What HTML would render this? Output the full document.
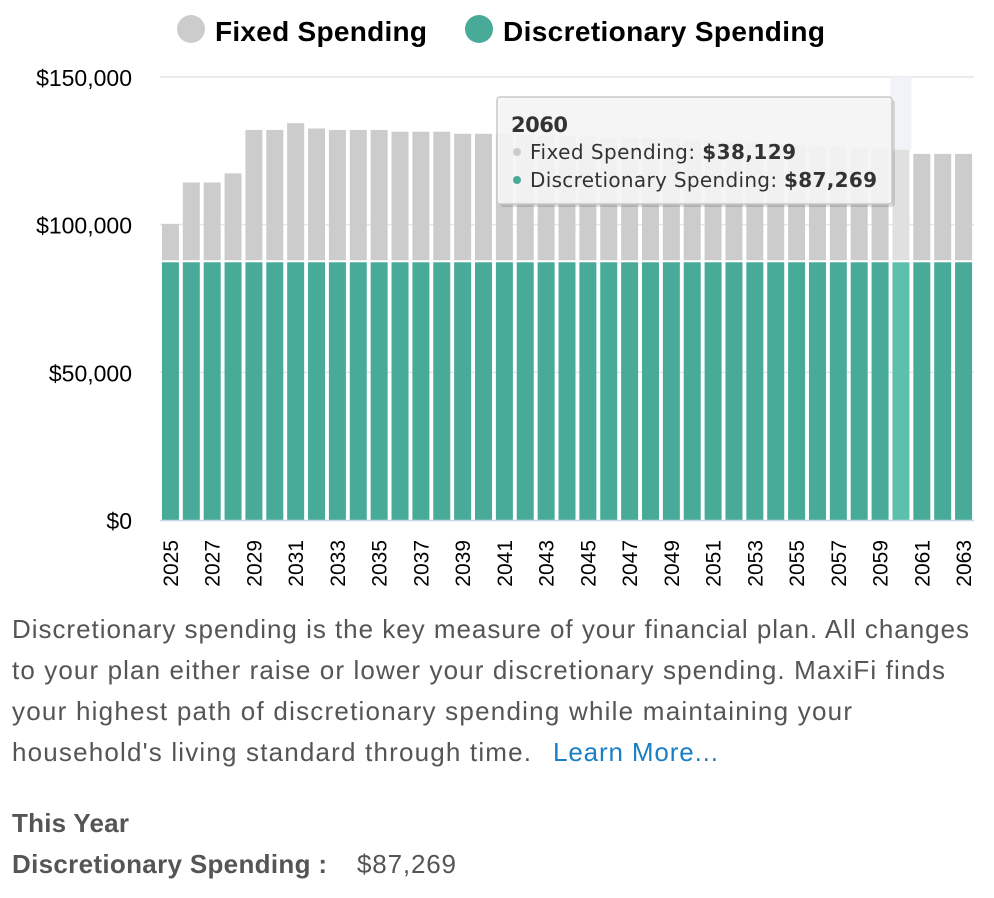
<!DOCTYPE html>
<html><head><meta charset="utf-8"><style>
html,body{margin:0;padding:0;background:#fff;}
svg{display:block;font-family:"Liberation Sans",sans-serif;}
</style></head><body>
<svg id="chart" width="994" height="898" viewBox="0 0 994 898">
  <g>
    <g>
      <circle cx="191" cy="29" r="14" fill="#cccccc"/>
      <text x="215" y="41" font-size="28" font-weight="bold" fill="#000" textLength="212">Fixed Spending</text>
    </g>
    <g>
      <circle cx="479" cy="29" r="14" fill="#48ab98"/>
      <text x="503" y="41" font-size="28" font-weight="bold" fill="#000" textLength="322">Discretionary Spending</text>
    </g>
  </g>
  <g id="grid"></g>
  <rect id="hl" fill="#f1f3f9"/>
  <g id="yaxis"></g>
  <g id="bars"></g>
  <line id="baseline" stroke="#ccd6eb" stroke-width="1.5"/>
  <g id="xaxis"></g>
  <g>
    <rect x="498" y="98" width="395" height="107" rx="3" fill="#000" opacity="0.12" transform="translate(2,2)"/>
    <rect x="497" y="97" width="395" height="107" rx="3" fill="#f7f7f7" fill-opacity="0.9" stroke="#c8c8c8" stroke-width="1.5"/>
    <text x="511" y="132" font-size="21" font-weight="bold" fill="#333" font-family="DejaVu Sans, sans-serif" textLength="57">2060</text>
    <circle cx="517" cy="152" r="4" fill="#cccccc"/>
    <text x="530" y="159" font-size="20" fill="#333" font-family="DejaVu Sans, sans-serif" textLength="266">Fixed Spending: <tspan font-weight="bold">$38,129</tspan></text>
    <circle cx="517" cy="180" r="4" fill="#48ab98"/>
    <text x="530" y="187" font-size="20" fill="#333" font-family="DejaVu Sans, sans-serif" textLength="347">Discretionary Spending: <tspan font-weight="bold">$87,269</tspan></text>
  </g>
  <g font-size="26" fill="#555">
    <text x="12" y="638" textLength="957">Discretionary spending is the key measure of your financial plan. All changes</text>
    <text x="12" y="679" textLength="933">to your plan either raise or lower your discretionary spending. MaxiFi finds</text>
    <text x="12" y="720" textLength="840">your highest path of discretionary spending while maintaining your</text>
    <text x="12" y="761" textLength="519">household's living standard through time.</text>
    <text x="553" y="761" textLength="165" fill="#1a7fc4">Learn More...</text>
  </g>
  <text x="12" y="832" font-size="26" font-weight="bold" fill="#555" textLength="117">This Year</text>
  <text x="12" y="873" font-size="26" font-weight="bold" fill="#555" textLength="315">Discretionary Spending :</text>
  <text x="357" y="873" font-size="26" fill="#555" textLength="99">$87,269</text>
</svg>
<script>
const years = [];
for (let y = 2025; y <= 2063; y++) years.push(y);
const fixedSpending = [13.0,27.0,27.0,30.1,44.8,44.8,47.1,45.3,44.8,44.8,44.8,44.2,44.2,44.2,43.5,43.5,43.5,43.2,43.0,42.8,42.5,42.3,42.2,42.0,41.8,41.5,41.2,40.9,40.6,40.2,39.6,39.0,39.0,38.6,38.4,38.129,36.7,36.7,36.7];
const discretionarySpending = [87.269,87.269,87.269,87.269,87.269,87.269,87.269,87.269,87.269,87.269,87.269,87.269,87.269,87.269,87.269,87.269,87.269,87.269,87.269,87.269,87.269,87.269,87.269,87.269,87.269,87.269,87.269,87.269,87.269,87.269,87.269,87.269,87.269,87.269,87.269,87.269,87.269,87.269,87.269];
const yTicks = [0,50,100,150];
const yTickLabels = ["$0","$50,000","$100,000","$150,000"];
const highlightYear = 2060;

const NS = "http://www.w3.org/2000/svg";
const X0 = 160, X1 = 974, Y0 = 520, Y1 = 77, YMAX = 150;
const slot = (X1 - X0) / years.length;
const bw = 17;
function yScale(v){ return Y0 - v / YMAX * (Y0 - Y1); }
function xScale(i){ return X0 + slot * i + slot / 2; }
function mk(tag, attrs, parent){ const e = document.createElementNS(NS, tag); for (const k in attrs) e.setAttribute(k, attrs[k]); parent.appendChild(e); return e; }

const grid = document.getElementById('grid'), yaxis = document.getElementById('yaxis');
yTicks.forEach((t, i) => {
  if (t > 0) {
    const l = mk('line', {x1: X0, x2: X1, y1: yScale(t), y2: yScale(t), stroke: '#e6e6e6', 'stroke-width': 1.5}, grid);
    
    
  }
  const tx = mk('text', {x: 132, y: yScale(t) + 9, 'text-anchor': 'end', 'font-size': 23, fill: '#000'}, yaxis);
  tx.textContent = yTickLabels[i];
  
  
});

const bars = document.getElementById('bars'), xaxis = document.getElementById('xaxis');
years.forEach((yr, i) => {
  const cx = xScale(i), hot = yr === highlightYear;
  const d = discretionarySpending[i], f = fixedSpending[i];
  if (hot) {
    const hl = document.getElementById('hl');
    hl.setAttribute('x', cx - slot / 2); hl.setAttribute('width', slot);
    hl.setAttribute('y', Y1); hl.setAttribute('height', yScale(d + f) - Y1);
  }
  const r1 = mk('rect', {x: cx - bw / 2, width: bw, y: yScale(d), height: Y0 - yScale(d), fill: hot ? '#5cc0ad' : '#48ab98'}, bars);
  
  
  const r2 = mk('rect', {x: cx - bw / 2, width: bw, y: yScale(d + f), height: yScale(d) - yScale(d + f) - 2, fill: hot ? '#e0e0e0' : '#cccccc'}, bars);
  
  
  if (i % 2 === 0) {
    const t = mk('text', {x: 0, y: 0, 'text-anchor': 'end', 'font-size': 21, fill: '#000', transform: 'translate(' + (cx + 7.5) + ',540) rotate(-90)'}, xaxis);
    t.textContent = yr;
    
    
  }
});
const bl = document.getElementById('baseline');
bl.setAttribute('x1', X0); bl.setAttribute('x2', X1); bl.setAttribute('y1', Y0 + 0.5); bl.setAttribute('y2', Y0 + 0.5);
</script>
</body></html>
